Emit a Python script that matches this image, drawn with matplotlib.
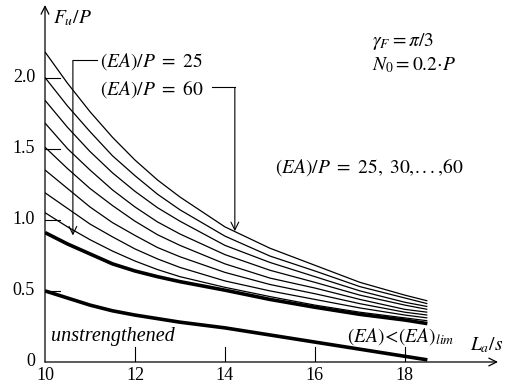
import numpy as np
import matplotlib
matplotlib.use('Agg')
import matplotlib.pyplot as plt

plt.rcParams['font.family'] = ['Liberation Serif', 'DejaVu Serif']
plt.rcParams['mathtext.fontset'] = 'stix'

# slenderness L_a/s where the curves were read
la_s = [10, 10.5, 11, 11.5, 12, 12.5, 13, 14, 15, 16, 17, 18, 18.5]

# F_u/P for (EA)/P = 60, 55, ..., 25 (top to bottom)
fu_ea = {
    60: [2.18, 1.96, 1.76, 1.58, 1.42, 1.28, 1.16, 0.95, 0.80, 0.68, 0.56, 0.47, 0.43],
    55: [2.00, 1.80, 1.62, 1.45, 1.31, 1.18, 1.07, 0.885, 0.745, 0.64, 0.53, 0.45, 0.41],
    50: [1.84, 1.65, 1.48, 1.33, 1.20, 1.085, 0.99, 0.82, 0.70, 0.60, 0.50, 0.42, 0.39],
    45: [1.68, 1.50, 1.35, 1.21, 1.09, 0.985, 0.90, 0.755, 0.645, 0.56, 0.47, 0.40, 0.37],
    40: [1.51, 1.36, 1.22, 1.10, 0.99, 0.895, 0.82, 0.69, 0.59, 0.52, 0.44, 0.37, 0.35],
    35: [1.35, 1.22, 1.09, 0.98, 0.89, 0.805, 0.74, 0.63, 0.545, 0.48, 0.41, 0.35, 0.33],
    30: [1.19, 1.08, 0.97, 0.88, 0.795, 0.725, 0.665, 0.57, 0.50, 0.44, 0.38, 0.33, 0.31],
    25: [1.05, 0.95, 0.86, 0.78, 0.71, 0.65, 0.60, 0.525, 0.46, 0.40, 0.35, 0.31, 0.29],
}
# (EA) < (EA)_lim
fu_lim = [0.91, 0.83, 0.76, 0.69, 0.64, 0.60, 0.565, 0.505, 0.44, 0.385, 0.335, 0.295, 0.27]
# unstrengthened member
fu_unstr = [0.50, 0.45, 0.40, 0.36, 0.33, 0.305, 0.28, 0.24, 0.19, 0.14, 0.09, 0.04, 0.015]

xticks = [12, 14, 16, 18]
yticks = [0.5, 1.0, 1.5, 2.0]

fig = plt.figure(figsize=(5.10, 3.86), dpi=100)
ax = fig.add_axes([45/510, 24/386, 453/510, 357/386])
xmax, ymax = 20.07, 2.51
ax.set_xlim(10, xmax)
ax.set_ylim(0, ymax)
ax.axis('off')

for ea, vals in fu_ea.items():
    ax.plot(la_s, vals, color='black', lw=0.9, solid_capstyle='butt')
ax.plot(la_s, fu_lim, color='black', lw=2.6, solid_capstyle='butt')
ax.plot(la_s, fu_unstr, color='black', lw=2.6, solid_capstyle='butt')

# axes with open arrow heads
arr = dict(arrowstyle='->', color='black', lw=0.9, shrinkA=0, shrinkB=0,
           mutation_scale=14)
ax.annotate('', xy=(xmax, 0), xytext=(10, 0), arrowprops=arr, annotation_clip=False)
ax.annotate('', xy=(10, ymax), xytext=(10, 0), arrowprops=arr, annotation_clip=False)

# inner ticks
tfs = 13
for t in xticks:
    ax.plot([t, t], [0, 0.105], color='black', lw=0.8)
    ax.text(t, -0.035, str(t), ha='center', va='top', fontsize=tfs)
ax.text(10, -0.035, '10', ha='center', va='top', fontsize=tfs)
for t in yticks:
    ax.plot([10, 10.33], [t, t], color='black', lw=0.8)
    ax.text(9.78, t, f'{t:.1f}', ha='right', va='center', fontsize=tfs)
ax.text(9.78, 0.0, '0', ha='right', va='center', fontsize=tfs)

fs = 14
ax.text(10.18, 2.42, r'$F_u/P$', fontsize=fs, va='center')
ax.text(19.44, 0.12, r'$L_a/s$', fontsize=fs, va='center')
ax.text(17.27, 2.25, r'$\gamma_F = \pi/3$', fontsize=fs, va='center')
ax.text(17.27, 2.09, r'$N_0 = 0.2{\cdot}P$', fontsize=fs, va='center')
ax.text(15.11, 1.37, r'$(EA)/P\ =\ 25,\ 30,\!...,\!60$', fontsize=fs, va='center')
ax.text(11.22, 2.11, r'$(EA)/P\ =\ 25$', fontsize=fs, va='center')
ax.text(11.22, 1.92, r'$(EA)/P\ =\ 60$', fontsize=fs, va='center')
ax.text(10.13, 0.176, 'unstrengthened', fontsize=14.5, style='italic', va='center')
ax.text(16.71, 0.176, r'$(EA)\!<\!(EA)_{lim}$', fontsize=fs, va='center')

# leader lines pointing at the (EA)/P = 25 and 60 curves
ax.plot([10.62, 11.16], [2.12, 2.12], color='black', lw=0.8)
ax.annotate('', xy=(10.62, 0.89), xytext=(10.62, 2.12), arrowprops=dict(arr, lw=0.8))
ax.plot([13.71, 14.22], [1.93, 1.93], color='black', lw=0.8)
ax.annotate('', xy=(14.22, 0.92), xytext=(14.22, 1.93), arrowprops=dict(arr, lw=0.8))

fig.savefig('out.png', dpi=100)
